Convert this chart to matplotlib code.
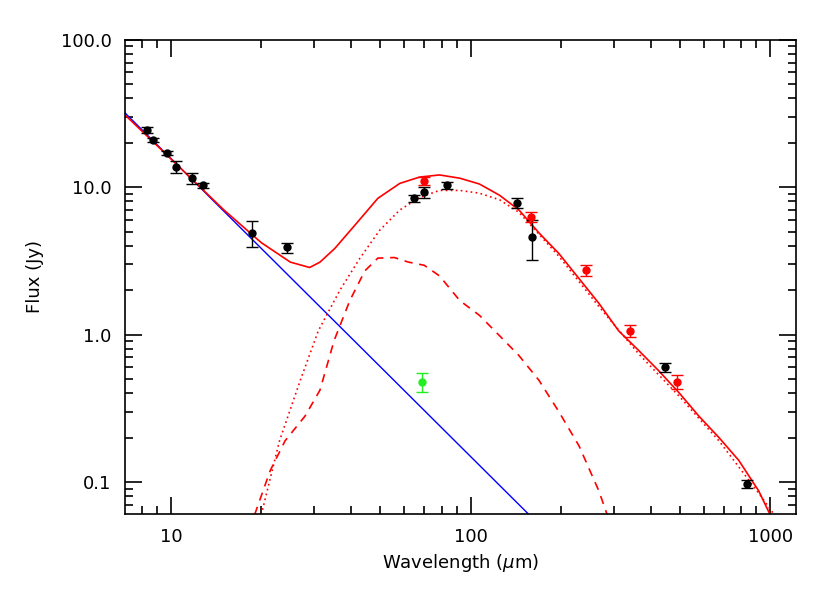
import numpy as np
import matplotlib
matplotlib.use("Agg")
import matplotlib.pyplot as plt
from matplotlib.ticker import FixedLocator, FixedFormatter, LogLocator, NullFormatter

# photometry (black: archival, red: this work, green: upper point)
black_wl = [8.3, 8.7, 9.7, 10.4, 11.7, 12.8, 18.6, 24.4, 64.6, 69.9, 83.2, 143, 160, 446, 838]
black_fl = [24.4, 20.9, 17.0, 13.7, 11.5, 10.3, 4.9, 3.9, 8.4, 9.2, 10.3, 7.8, 4.6, 0.6, 0.097]
black_err = [1.0, 0.8, 0.6, 1.3, 1.0, 0.4, 1.0, 0.3, 0.5, 0.8, 0.6, 0.6, 1.4, 0.04, 0.006]
red_wl = [70, 159, 243, 340, 490]
red_fl = [11.0, 6.3, 2.73, 1.06, 0.48]
red_err = [0.7, 0.5, 0.25, 0.1, 0.05]
green_wl = [69]
green_fl = [0.48]
green_err = [0.07]

# stellar photosphere
star_wl = [7.0, 160.0]
star_fl = [32.0, 32.0 * (160.0 / 7.0) ** -2.02]

# total model
tot_wl = [7, 10, 15, 20, 25, 29, 31.4, 35.2, 41, 49, 58, 67.5, 78.7, 92, 107, 125, 145, 169, 197,
          230, 268, 312, 364, 424, 498, 578, 675, 786, 916, 1000, 1100]
tot_fl = [31, 15.5, 7.0, 4.2, 3.1, 2.85, 3.1, 3.84, 5.5, 8.4, 10.6, 11.7, 12.1, 11.5, 10.5, 8.8, 7.0, 4.9, 3.55,
          2.4, 1.63, 1.06, 0.78, 0.57, 0.40, 0.28, 0.20, 0.14, 0.087, 0.06, 0.045]
# cold dust
cold_wl = [20, 23, 27, 31, 36.6, 42.7, 49.7, 58, 67.5, 78.7, 92, 107, 125, 145, 169, 197,
           268, 364, 498, 675, 916, 1100]
cold_fl = [0.06, 0.19, 0.49, 1.06, 2.0, 3.3, 5.1, 7.0, 8.5, 9.5, 9.5, 9.1, 8.2, 6.75, 4.8, 3.4,
           1.55, 0.74, 0.38, 0.19, 0.084, 0.05]
# warm dust
warm_wl = [19, 21.4, 24, 28, 31.4, 35, 39.5, 44.3, 49, 55.6, 62, 70, 78.7, 92, 107, 125, 145, 169,
           197, 230, 268, 290]
warm_fl = [0.06, 0.119, 0.19, 0.28, 0.42, 0.91, 1.7, 2.7, 3.3, 3.33, 3.1, 2.95, 2.5, 1.7, 1.35, 0.98,
           0.72, 0.49, 0.30, 0.176, 0.087, 0.055]

fig = plt.figure(figsize=(8.3, 5.93), dpi=100)
ax = fig.add_axes([0.151, 0.133, 0.808, 0.800])

ax.plot(star_wl, star_fl, color="blue", lw=1)
ax.plot(tot_wl, tot_fl, color="red", lw=1.2)
ax.plot(cold_wl, cold_fl, color="red", lw=1.2, ls=(0, (1, 2)))
ax.plot(warm_wl, warm_fl, color="red", lw=1.2, ls=(0, (5, 4)))

ax.errorbar(black_wl, black_fl, yerr=black_err, fmt="o", color="black", ms=5, capsize=4, lw=1)
ax.errorbar(red_wl, red_fl, yerr=red_err, fmt="o", color="red", ms=5, capsize=4, lw=1)
ax.errorbar(green_wl, green_fl, yerr=green_err, fmt="o", color="#22ee22", ms=5, capsize=4, lw=1)

ax.set_xscale("log")
ax.set_yscale("log")
ax.set_xlim(7.03, 1220)
ax.set_ylim(0.0605, 100)

ax.xaxis.set_major_locator(FixedLocator([10, 100, 1000]))
ax.xaxis.set_major_formatter(FixedFormatter(["10", "100", "1000"]))
ax.yaxis.set_major_locator(FixedLocator([0.1, 1, 10, 100]))
ax.yaxis.set_major_formatter(FixedFormatter(["0.1", "1.0", "10.0", "100.0"]))
for a in (ax.xaxis, ax.yaxis):
    a.set_minor_locator(LogLocator(base=10, subs=np.arange(2, 10)))
    a.set_minor_formatter(NullFormatter())
ax.tick_params(which="both", direction="in", top=True, right=True, labelsize=13)
ax.tick_params(which="major", length=12, width=1.2, pad=10)
ax.tick_params(which="minor", length=6, width=1.2)
for s in ax.spines.values():
    s.set_linewidth(1.2)

ax.set_xlabel("Wavelength ($\\mu$m)", fontsize=13)
ax.set_ylabel("Flux (Jy)", fontsize=13, labelpad=12)

fig.savefig("out.png")
